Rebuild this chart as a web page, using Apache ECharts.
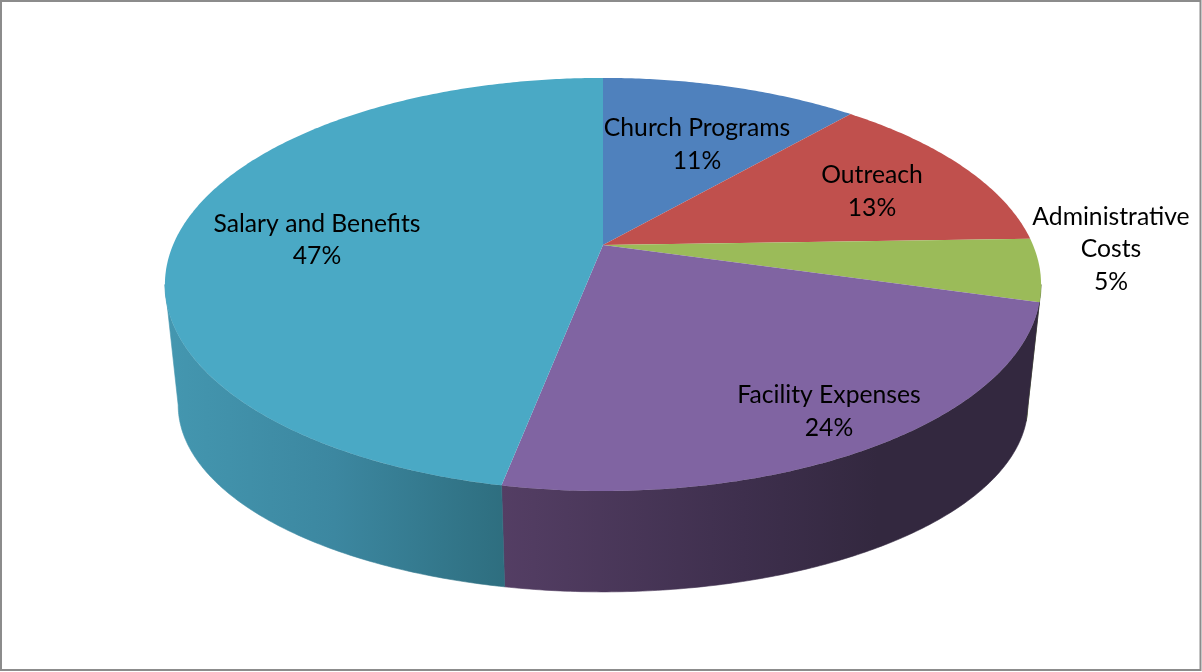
<!DOCTYPE html>
<html>
<head>
<meta charset="utf-8">
<style>html,body{margin:0;padding:0;background:#fff}#c{width:1202px;height:672px}</style>
<script src="https://cdn.jsdelivr.net/npm/echarts@6/dist/echarts.min.js"></script>
</head>
<body>
<div id="c"></div>
<script>
const categories = ['Church Programs', 'Outreach', 'Administrative\nCosts', 'Facility Expenses', 'Salary and Benefits'];
const shares = [11.45, 13.05, 4.9, 23.67, 46.93];
const topColors = ['#4f81bd', '#c0504d', '#9bbb59', '#8064a2', '#4aa9c5'];
const wallStops = [
  [[0, '#3b5f8c'], [1, '#3b5f8c']],
  [[0, '#8e3b39'], [1, '#8e3b39']],
  [[0, '#5c7136'], [1, '#5c7136']],
  [[0, '#543e64'], [0.45, '#3e2f4d'], [0.7, '#33283f'], [1, '#33283f']],
  [[0, '#4497b0'], [0.5, '#3c87a0'], [1, '#2e6e7f']]
];
// label centre offsets from the pie apex (layout, not data)
const labelOffsets = [[94, -100.5], [269, -53.5], [508, 4.5], [226, 166.5], [-286, -5]];

// perspective disc: top face and bottom face
const K = 0.191;
const topFace = { cx: 603, cy: 245, a: 199, b: 430 };
const botFace = { cx: 603, cy: 369.4, a: 180, b: 417 };
function project(face, theta) {
  const x = Math.sin(theta), y = Math.cos(theta), d = 1 + K * y;
  return [face.cx + face.b * x / d, face.cy - face.a * y / d];
}
const total = shares.reduce((s, v) => s + v, 0);
function range(i) {
  const before = shares.slice(0, i).reduce((s, v) => s + v, 0);
  return [before / total * 2 * Math.PI, (before + shares[i]) / total * 2 * Math.PI];
}
function arc(face, a0, a1) {
  const n = Math.max(2, Math.ceil((a1 - a0) / 0.01)), pts = [];
  for (let j = 0; j <= n; j++) pts.push(project(face, a0 + (a1 - a0) * j / n));
  return pts;
}
const data = shares.map((v, i) => ({ name: categories[i], value: [i, v] }));
const nearFrom = Math.PI / 2 + Math.asin(K), nearTo = 2 * Math.PI - nearFrom;

const chart = echarts.init(document.getElementById('c'), null, { renderer: 'canvas', width: 1202, height: 672 });
chart.setOption({
  backgroundColor: '#ffffff',
  animation: false,
  graphic: [{
    type: 'rect', z: 0, silent: true,
    shape: { x: 1, y: 1, width: 1199.5, height: 669 },
    style: { fill: 'none', stroke: '#8c8c8c', lineWidth: 2 }
  }],
  series: [{
    type: 'custom', coordinateSystem: 'none', z: 2, clip: false, data,
    renderItem(params, api) {
      const i = api.value(0);
      const [a0, a1] = range(i);
      const s = Math.max(a0, nearFrom), e = Math.min(a1, nearTo);
      if (e <= s) return { type: 'group', children: [] };
      const upper = arc(topFace, s, e), lower = arc(botFace, s, e);
      const pts = upper.concat(lower.reverse());
      const xs = pts.map(p => p[0]);
      const lo = Math.min.apply(null, xs), hi = Math.max.apply(null, xs);
      const paint = new echarts.graphic.LinearGradient(lo, 0, hi, 0,
        wallStops[i].map(st => ({ offset: st[0], color: st[1] })), true);
      return {
        type: 'polygon', shape: { points: pts },
        style: { fill: paint, stroke: paint, lineWidth: 0.6 }
      };
    }
  }, {
    type: 'custom', coordinateSystem: 'none', z: 3, clip: false, data,
    renderItem(params, api) {
      const i = api.value(0);
      const [a0, a1] = range(i);
      const pts = [[topFace.cx, topFace.cy]].concat(arc(topFace, a0, a1));
      return {
        type: 'polygon', shape: { points: pts },
        style: { fill: topColors[i] }
      };
    }
  }, {
    type: 'custom', coordinateSystem: 'none', z: 4, clip: false, data,
    renderItem(params, api) {
      const i = api.value(0);
      const off = labelOffsets[i];
      return {
        type: 'text', x: topFace.cx + off[0], y: topFace.cy + off[1],
        style: {
          text: categories[i] + '\n' + Math.round(api.value(1) / total * 100) + '%',
          font: '24.7px Lato', fill: '#000000', align: 'center', verticalAlign: 'middle', lineHeight: 32.5
        }
      };
    }
  }]
});
</script>
</body>
</html>
